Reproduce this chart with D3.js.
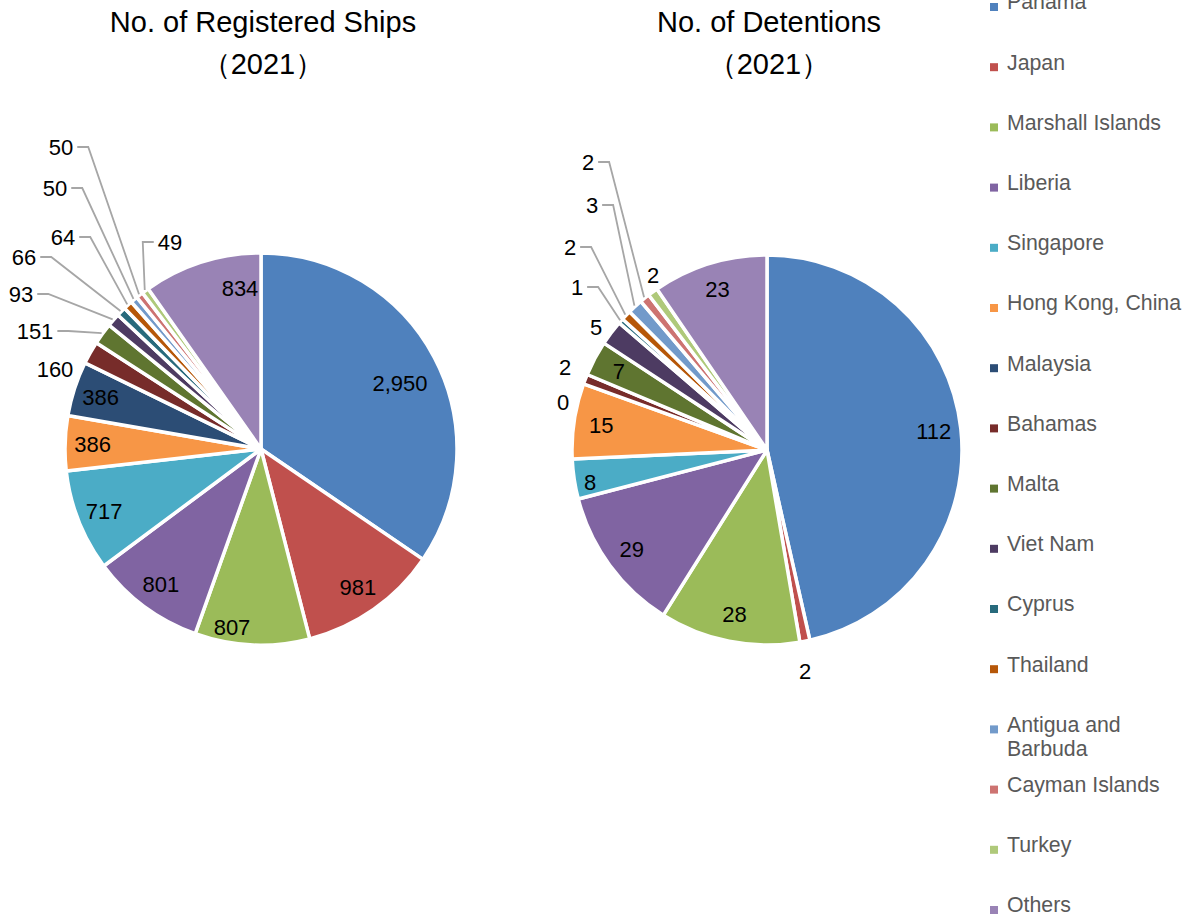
<!DOCTYPE html>
<html>
<head>
<meta charset="utf-8">
<script src="https://cdn.jsdelivr.net/npm/d3@7"></script>
<style>
  body { margin: 0; background: #fff; }
  text { font-family: "Liberation Sans", Arial, sans-serif; }
</style>
</head>
<body>
<div id="chart"></div>
<script>
// flag states, same order in both pies and in the legend
const countries = ["Panama", "Japan", "Marshall Islands", "Liberia", "Singapore",
  "Hong Kong, China", "Malaysia", "Bahamas", "Malta", "Viet Nam", "Cyprus",
  "Thailand", "Antigua and Barbuda", "Cayman Islands", "Turkey", "Others"];
const registeredShips = [2950, 981, 807, 801, 717, 386, 386, 160, 151, 93, 66, 64, 50, 50, 49, 834];
const detentions = [112, 2, 28, 29, 8, 15, 0, 2, 7, 5, 1, 2, 3, 2, 2, 23];
const titles = ["No. of Registered Ships", "No. of Detentions"];
const yearLabel = "（2021）";

const colors = ["#4F81BD", "#C0504D", "#9BBB59", "#8064A2", "#4BACC6", "#F79646",
  "#2C4D75", "#772C2A", "#5F7530", "#4D3B62", "#276A7C", "#B65708",
  "#729ACA", "#CD7371", "#AFC97A", "#9983B5"];

// label placement for the small slices (offsets from pie centre), leader = draw callout line
const layout = [
  {cx: 261, cy: 449, r: 196,
   moved: {0: [139, -66], 2: [-29, 178], 15: [-21, -161],
           7: [-206, -80, false], 8: [-226, -118, true], 9: [-240, -155, true],
           10: [-237, -192, true], 11: [-198, -212, true], 12: [-206, -261, true],
           13: [-200, -302, true], 14: [-91, -207, true]}},
  {cx: 767, cy: 450, r: 195,
   moved: {4: [-177, 32], 1: [38, 221, false], 6: [-204, -48, false], 7: [-202, -83, false],
           9: [-171, -123, false], 10: [-190, -163, true], 11: [-197, -203, true],
           12: [-175, -245, true], 13: [-179, -288, true], 14: [-114, -175, false]}}
];

const W = 1190, H = 920;
const svg = d3.select("#chart").append("svg")
  .attr("width", W).attr("height", H);
svg.append("rect").attr("width", W).attr("height", H).attr("fill", "#fff");

const fmt = d3.format(",");
const pie = d3.pie().sort(null).value(d => d);

[registeredShips, detentions].forEach((values, k) => {
  const cfg = layout[k];
  const g = svg.append("g").attr("transform", `translate(${cfg.cx},${cfg.cy})`);
  const arc = d3.arc().innerRadius(0).outerRadius(cfg.r);
  const labelArc = d3.arc().innerRadius(cfg.r * 0.86).outerRadius(cfg.r * 0.86);
  const edgeArc = d3.arc().innerRadius(cfg.r + 1).outerRadius(cfg.r + 1);
  const arcs = pie(values);

  g.selectAll("path.slice")
    .data(arcs.filter(d => d.value > 0))
    .join("path")
    .attr("class", "slice")
    .attr("d", arc)
    .attr("fill", d => colors[d.index])
    .attr("stroke", "#fff")
    .attr("stroke-width", 3.5)
    .attr("stroke-linejoin", "round");

  arcs.forEach(d => {
    const m = cfg.moved[d.index];
    const pos = m ? [m[0], m[1]] : labelArc.centroid(d);
    const t = g.append("text")
      .attr("x", pos[0]).attr("y", pos[1])
      .attr("text-anchor", "middle")
      .attr("dy", "0.35em")
      .attr("font-size", 22)
      .attr("fill", "#000")
      .text(fmt(d.value));

    if (m && m[2]) {
      const w = t.node().getComputedTextLength();
      const end = edgeArc.centroid(d);
      const side = end[0] > pos[0] ? 1 : -1;
      const sx = pos[0] + side * (w / 2 + 4);
      const ex = sx + side * 11;
      g.append("path")
        .attr("d", d3.line()([[sx, pos[1]], [ex, pos[1]], end]))
        .attr("fill", "none")
        .attr("stroke", "#A6A6A6")
        .attr("stroke-width", 1.8);
    }
  });

  // title, two lines
  const title = svg.append("text")
    .attr("x", cfg.cx + 2).attr("text-anchor", "middle")
    .attr("font-size", 29).attr("fill", "#000");
  title.append("tspan").attr("x", cfg.cx + 2).attr("y", 32).text(titles[k]);
  title.append("tspan").attr("x", cfg.cx + 2).attr("y", 74).text(yearLabel);
});

// legend on the right, text wrapped like the original
const legend = svg.append("g").attr("transform", "translate(990,2)");
const rowH = 60.2;
countries.forEach((name, i) => {
  const row = legend.append("g").attr("transform", `translate(0,${i * rowH})`);
  row.append("rect")
    .attr("x", 0).attr("y", 1).attr("width", 8).attr("height", 8)
    .attr("fill", colors[i]);
  const txt = row.append("text")
    .attr("x", 17).attr("y", 0)
    .attr("font-size", 21.3).attr("fill", "#595959");
  // simple word wrap at ~182px
  const words = name.split(" ");
  let line = [], ts = txt.append("tspan").attr("x", 17).attr("dy", "0.35em");
  words.forEach(wd => {
    line.push(wd);
    ts.text(line.join(" "));
    if (ts.node().getComputedTextLength() > 182 && line.length > 1) {
      line.pop();
      ts.text(line.join(" "));
      line = [wd];
      ts = txt.append("tspan").attr("x", 17).attr("dy", "1.13em").text(wd);
    }
  });
});
</script>
</body>
</html>
